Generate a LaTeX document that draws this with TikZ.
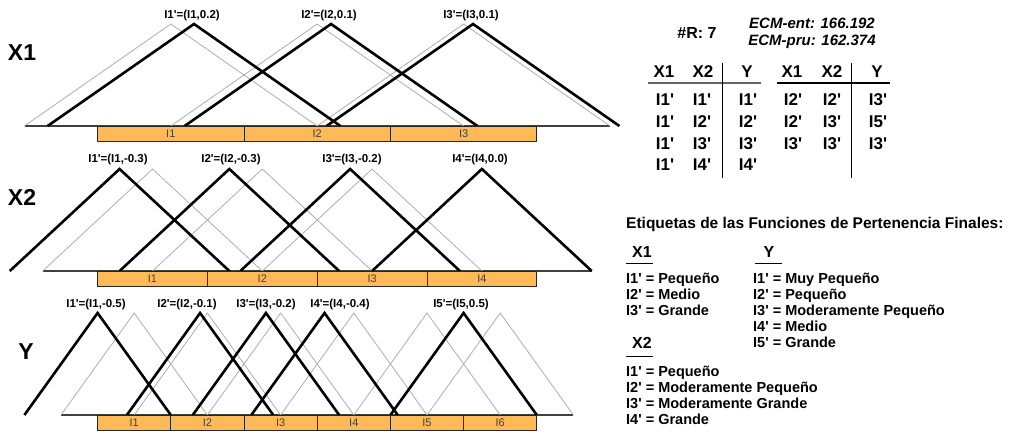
\documentclass[tikz,border=0pt]{standalone}
\usepackage{fontspec}
\setmainfont{Liberation Sans}[Ligatures=TeXOff]
\usetikzlibrary{positioning}
\definecolor{barorange}{HTML}{FFBA57}
\tikzstyle{mfgray}=[draw=black!32, line width=0.8pt]
\tikzstyle{mfblack}=[draw=black, line width=2.6pt]
\tikzstyle{baseaxis}=[draw=black!75, line width=1.4pt]
\tikzstyle{segbar}=[draw=black!85, fill=barorange, line width=0.9pt]
\tikzstyle{seglabel}=[font=\fontsize{11}{13}\selectfont, text=black!75, inner sep=0pt]
\tikzstyle{mflabel}=[font=\bfseries\fontsize{11.5}{13}\selectfont, inner sep=0pt]
\tikzstyle{vartitle}=[font=\bfseries\fontsize{23}{27}\selectfont, inner sep=0pt]
\tikzstyle{tabtext}=[font=\bfseries\fontsize{17}{20}\selectfont, inner sep=0pt]
\tikzstyle{listtext}=[font=\bfseries\fontsize{14.5}{16}\selectfont, inner sep=0pt, anchor=west, text height=10.5pt, text depth=3pt]

\begin{document}
\begin{tikzpicture}[x=1pt,y=-1pt]
\useasboundingbox (0,0) rectangle (1016,432);

% X1
\node[vartitle] (tx1) at (22,53) {X1};
\draw[baseaxis] (25,126) -- (610,126);
\foreach \i in {1,2,3} {
  \pgfmathsetmacro{\cx}{97.6+(\i-0.5)*146.4}
  \draw[mfgray] (\cx-146.4,126) -- (\cx,24) -- (\cx+146.4,126);
}
\foreach \i/\a/\cx/\lx in {1/0.2/194/192,2/0.1/331/329,3/0.1/473/471} {
  \draw[mfblack] (\cx-146.4,126) -- (\cx,24) -- (\cx+146.4,126);
  \node[mflabel] (x1l\i) at (\lx,16) {I\i'=(I\i,\a)};
}
\foreach \i in {1,2,3} {
  \pgfmathsetmacro{\cx}{97.6+(\i-0.5)*146.4}
  \draw[segbar] (\cx-73.2,126.5) rectangle (\cx+73.2,141.5);
  \node[seglabel] (x1s\i) at (\cx,134) {I\i};
}

% X2
\node[vartitle] (tx2) at (22,197) {X2};
\draw[baseaxis] (43,271) -- (592,271);
\foreach \i in {1,...,4} {
  \pgfmathsetmacro{\cx}{97.6+(\i-0.5)*109.8}
  \draw[mfgray] (\cx-109.8,271) -- (\cx,169) -- (\cx+109.8,271);
}
\foreach \i/\a/\lx in {1/-0.3/118,2/-0.3/231,3/-0.2/352,4/0.0/480} {
  \pgfmathsetmacro{\cx}{97.6+(\i-0.5+\a)*109.8}
  \draw[mfblack] (\cx-109.8,271) -- (\cx,169) -- (\cx+109.8,271);
  \node[mflabel] (x2l\i) at (\lx,160) {I\i'=(I\i,\a)};
}
\foreach \i in {1,...,4} {
  \pgfmathsetmacro{\cx}{97.6+(\i-0.5)*109.8}
  \draw[segbar] (\cx-54.9,271.5) rectangle (\cx+54.9,286);
  \node[seglabel] (x2s\i) at (\cx,279) {I\i};
}

% Y
\node[vartitle] (ty) at (26,352) {Y};
\draw[baseaxis] (61,415) -- (573,415);
\foreach \i in {1,...,6} {
  \pgfmathsetmacro{\cx}{97.6+(\i-0.5)*73.2}
  \draw[mfgray] (\cx-73.2,415) -- (\cx,313) -- (\cx+73.2,415);
}
\foreach \i/\a/\lx in {1/-0.5/96,2/-0.1/187,3/-0.2/266,4/-0.4/340,5/0.5/461} {
  \pgfmathsetmacro{\cx}{97.6+(\i-0.5+\a)*73.2}
  \draw[mfblack] (\cx-73.2,415) -- (\cx,313) -- (\cx+73.2,415);
  \node[mflabel] (yl\i) at (\lx,305) {I\i'=(I\i,\a)};
}
\foreach \i in {1,...,6} {
  \pgfmathsetmacro{\cx}{97.6+(\i-0.5)*73.2}
  \draw[segbar] (\cx-36.6,415.5) rectangle (\cx+36.6,430);
  \node[seglabel] (ys\i) at (\cx,423) {I\i};
}

% rule base
\node[font=\bfseries\fontsize{16}{18}\selectfont] (nr) at (697,33) {\#R: 7};
\node[font=\bfseries\itshape\fontsize{15}{17}\selectfont, inner sep=0pt] (ecm1) at (812,23) {ECM-ent: 166.192};
\node[font=\bfseries\itshape\fontsize{15}{17}\selectfont, inner sep=0pt] (ecm2) at (812,42) {ECM-pru: 162.374};

\foreach \x/\t in {664/X1,703/X2,747/Y,792/X1,832/X2,877/Y}
  \node[tabtext] (h\x) at (\x,72) {\t};
\draw[draw=black!60, line width=1.6pt] (648,83) -- (761,83);
\draw[line width=1.1pt] (777,83) -- (890,83);
\draw[line width=1pt] (722,63) -- (722,178);
\draw[line width=1pt] (851,63) -- (851,178);
\foreach \y/\a/\b/\c in {100/1/1/1,122/1/2/2,144/1/3/3,165/1/4/4} {
  \node[tabtext] (ra\y) at (665,\y) {I\a'};
  \node[tabtext] (rb\y) at (702,\y) {I\b'};
  \node[tabtext] (rc\y) at (748,\y) {I\c'};
}
\foreach \y/\a/\b/\c in {100/2/2/3,122/2/3/5,144/3/3/3} {
  \node[tabtext] (sa\y) at (793,\y) {I\a'};
  \node[tabtext] (sb\y) at (832,\y) {I\b'};
  \node[tabtext] (sc\y) at (878,\y) {I\c'};
}

% labels
\node[font=\bfseries\fontsize{15.5}{18}\selectfont, inner sep=0pt, anchor=west] (lt) at (626,224) {Etiquetas de las Funciones de Pertenencia Finales:};
\node[font=\bfseries\fontsize{16}{18}\selectfont, inner sep=0pt] (lx1) at (642,252) {X1};
\node[font=\bfseries\fontsize{16}{18}\selectfont, inner sep=0pt] (ly) at (769,252) {Y};
\node[font=\bfseries\fontsize{16}{18}\selectfont, inner sep=0pt] (lx2) at (642,343) {X2};
\draw[line width=0.9pt] (626,263) -- (653,263);
\draw[line width=0.9pt] (755,263) -- (782,263);
\draw[line width=0.9pt] (626,356) -- (653,356);
\foreach \y/\t in {280/{I1' = Pequeño},296/{I2' = Medio},312/{I3' = Grande}}
  \node[listtext] at (626,\y) {\t};
\foreach \y/\t in {280/{I1' = Muy Pequeño},296/{I2' = Pequeño},312/{I3' = Moderamente Pequeño},328/{I4' = Medio},344/{I5' = Grande}}
  \node[listtext] at (753,\y) {\t};
\foreach \y/\t in {373/{I1' = Pequeño},389/{I2' = Moderamente Pequeño},405/{I3' = Moderamente Grande},421/{I4' = Grande}}
  \node[listtext] at (626,\y) {\t};

\end{tikzpicture}
\end{document}
